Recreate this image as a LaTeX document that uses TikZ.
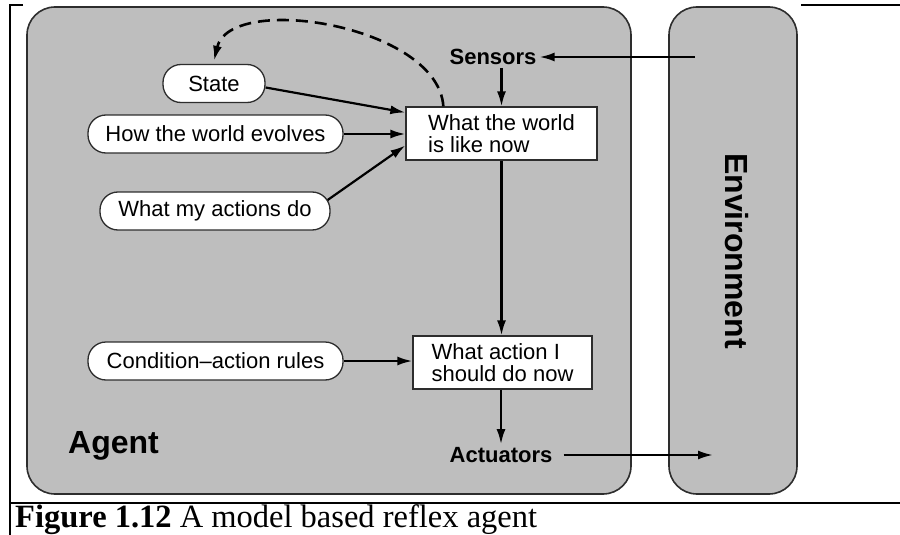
\documentclass[tikz,border=0pt]{standalone}
\usepackage{fontspec}
\setmainfont{Liberation Sans}
\newfontfamily\capfont{Liberation Serif}
\usetikzlibrary{arrows.meta}
\definecolor{bggray}{RGB}{190,190,190}
\definecolor{edgec}{RGB}{45,45,45}
\begin{document}
\begin{tikzpicture}[x=1pt,y=-1pt,
 pill/.style={draw=edgec, line width=1.3pt, fill=white, rounded corners=18pt, minimum height=38pt, inner sep=0pt, font=\fontsize{22}{24}\selectfont},
 box/.style={draw=edgec, line width=1.3pt, fill=white, minimum height=53pt, inner sep=0pt, align=left, font=\fontsize{22}{22}\selectfont},
 lbl/.style={font=\bfseries\fontsize{22}{24}\selectfont, inner sep=3pt},
 big/.style={font=\bfseries\fontsize{32}{34}\selectfont, inner sep=0pt},
 arr/.style={line width=2.2pt, -{Latex[length=15pt,width=9pt]}},
 dasharr/.style={line width=2.6pt, dash pattern=on 12pt off 7pt, -{Latex[length=15pt,width=9pt]}},
 panel/.style={draw=edgec, line width=1.6pt, fill=bggray, rounded corners=28pt},
 frameline/.style={line width=1.5pt}]

\useasboundingbox (0,0) rectangle (900,535);

% outer frame
\draw[frameline] (23,5) -- (10,5) -- (10,535);
\draw[frameline] (801,5) -- (900,5);
\draw[frameline] (10,503) -- (900,503);

% panels
\draw[panel] (27,7) rectangle (631,494);
\draw[panel] (669,7) rectangle (797,494);

% nodes
\node[pill, minimum width=102pt] (state) at (214,83.5) {State};
\node[pill, minimum width=255pt] (evolves) at (215.5,134) {How the world evolves};
\node[pill, minimum width=230pt] (actions) at (215,211) {What my actions do};
\node[pill, minimum width=255pt] (rules) at (215.5,361) {Condition--action rules};

\node[box, minimum width=191pt] (world) at (501.5,133.5) {What the world\\is like now};
\node[box, minimum width=179pt] (action) at (502.5,362.5) {What action I\\should do now};

\node[lbl] (sens) at (493,57) {Sensors};
\node[lbl] (actu) at (501,455) {Actuators};

\node[big, anchor=base west] (agent) at (68,453) {Agent};
\node[big, rotate=-90] (env) at (737,251) {Environment};

\node[anchor=base west, inner sep=0pt, font=\capfont\fontsize{32.5}{33}\selectfont] (cap) at (15,527) {\textbf{Figure 1.12} A model based reflex agent};

% connectors
\coordinate (envS) at (695,57);
\coordinate (envA) at (713,455);
\draw[arr] (envS) -- (sens.east);
\draw[arr] (world.north |- sens.south) -- (world.north);
\draw[arr] (world.south) -- (world.south |- action.north);
\draw[arr] (action.south -| actu.north) -- (actu.north);
\draw[arr, shorten <=8pt] (actu.east) -- (envA);

\draw[arr] ([yshift=-4pt]state.east) -- ([yshift=21pt]world.west);
\draw[arr] (evolves.east) -- (evolves.east -| world.west);
\draw[arr] ([xshift=-3pt,yshift=11pt]actions.east) -- ([yshift=-12pt]world.west);
\draw[arr] (rules.east) -- (rules.east -| action.west);

\draw[dasharr] ([xshift=38pt]world.north west) .. controls (438,25) and (230,-8) .. ([yshift=3pt]state.north);
\end{tikzpicture}
\end{document}
